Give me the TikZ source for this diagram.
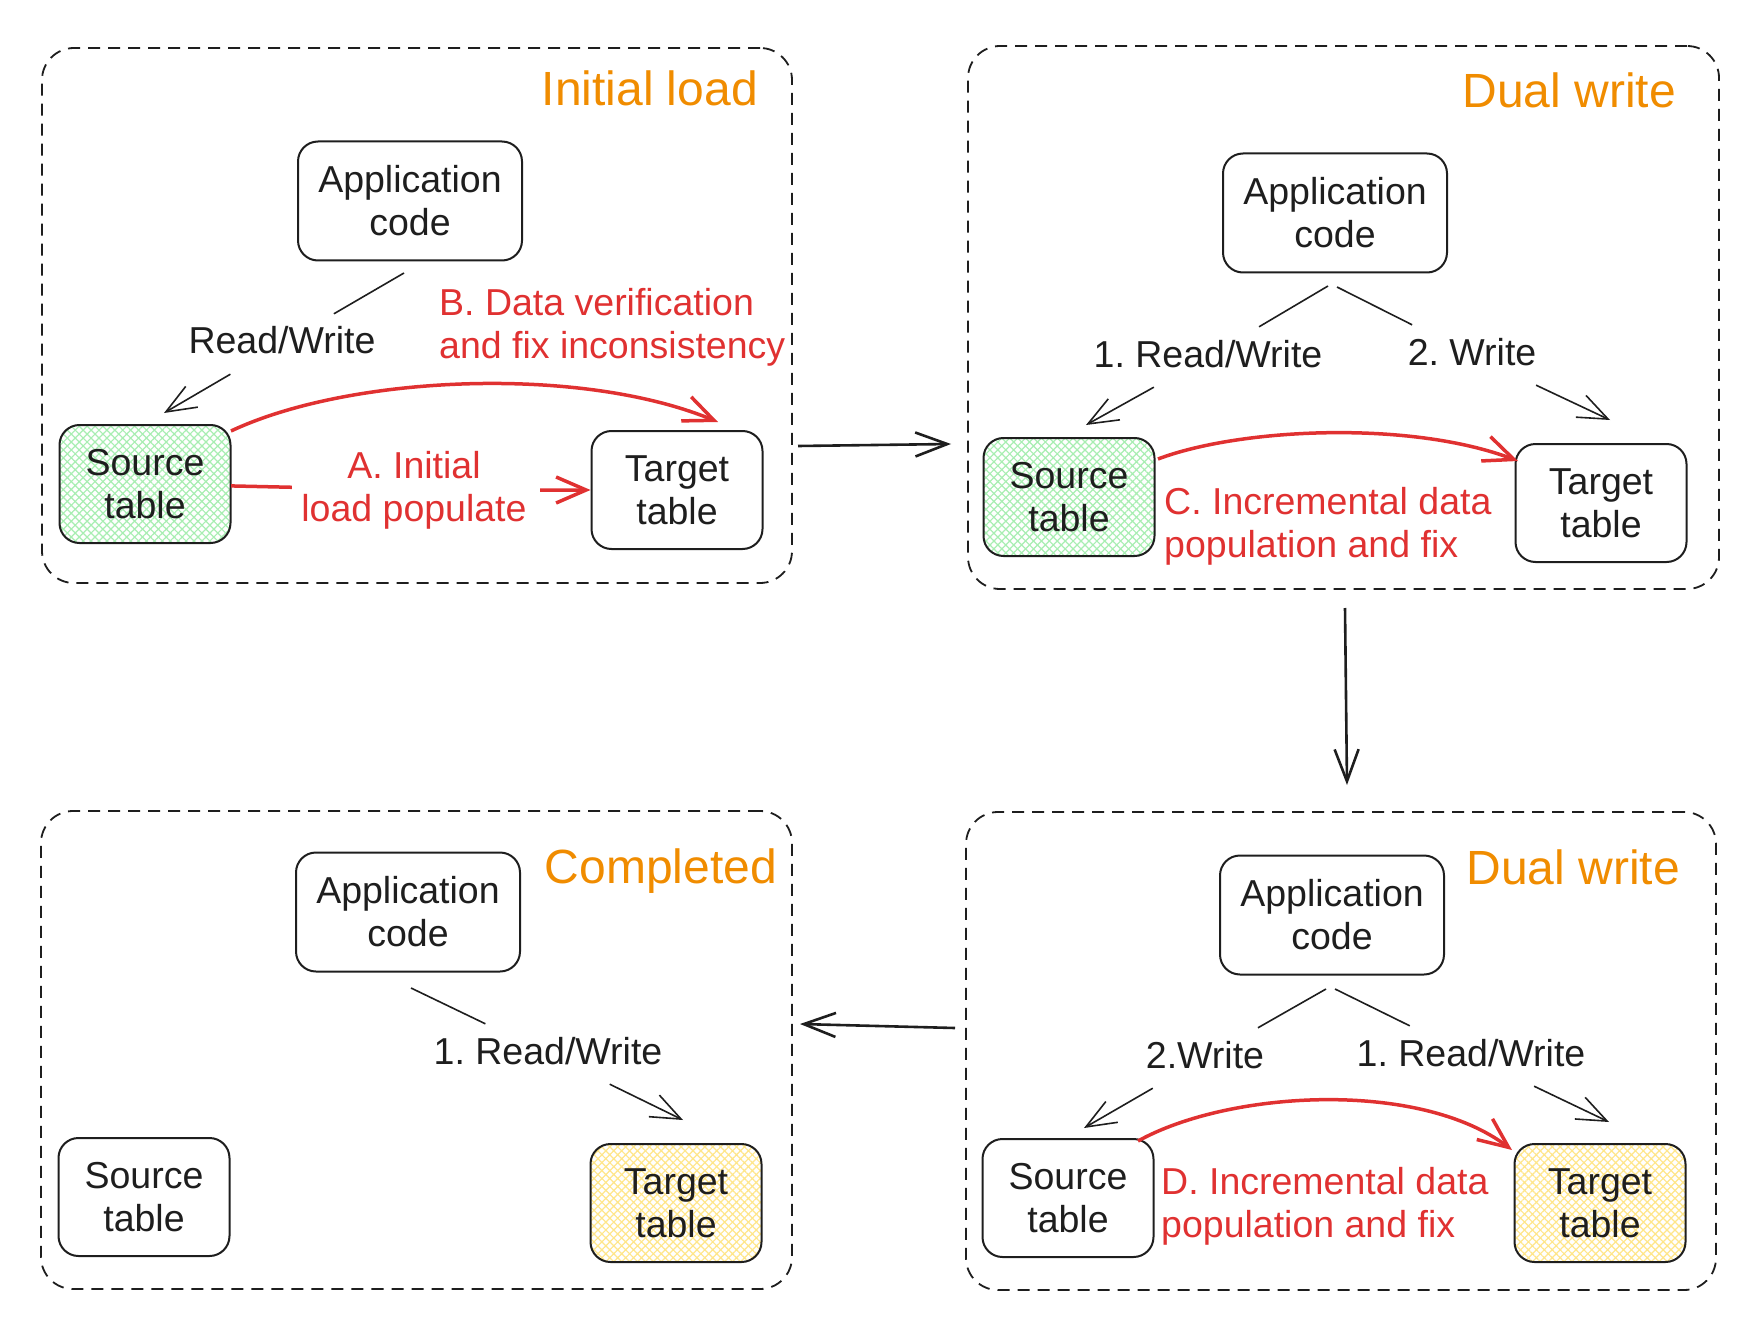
\documentclass[tikz,border=0pt]{standalone}
\usepackage{fontspec}
\setmainfont{Liberation Sans}
\usetikzlibrary{arrows.meta,patterns.meta}
\definecolor{ink}{HTML}{1E1E1E}
\definecolor{exred}{HTML}{E03131}
\definecolor{exorange}{HTML}{F08C00}
\definecolor{hgreen}{HTML}{A8EEB2}
\definecolor{hyellow}{HTML}{FFE68A}
\frenchspacing
\begin{document}
\begin{tikzpicture}[x=1pt,y=-1pt,
  every node/.style={font=\fontsize{37.5}{43}\selectfont, text=ink},
  box/.style={draw=ink, line width=2pt, rounded corners=20pt, align=center, inner sep=0pt},
  appbox/.style={box, minimum width=224pt, minimum height=119pt},
  tblbox/.style={box, minimum width=171pt, minimum height=118pt},
  greenbox/.style={tblbox, preaction={fill=white}, pattern={Hatch[angle=45,distance=5.6pt,line width=1.2pt]}, pattern color=hgreen},
  yellowbox/.style={tblbox, preaction={fill=white}, pattern={Hatch[angle=45,distance=5.6pt,line width=1.2pt]}, pattern color=hyellow},
  panel/.style={draw=ink, line width=1.8pt, dash pattern=on 12pt off 8pt, rounded corners=32pt, inner sep=0pt},
  title/.style={font=\fontsize{48}{54}\selectfont, text=exorange, anchor=base east, inner sep=0pt},
  lbl/.style={inner xsep=4pt, inner ysep=13pt, text height=27pt, text depth=7pt},
  redlbl/.style={text=exred, align=left, anchor=west, inner sep=0pt},
  thinarr/.style={draw=ink, line width=1.6pt, -{Straight Barb[length=30pt,width=24pt]}},
  redarr/.style={draw=exred, line width=3.5pt, -{Straight Barb[length=30pt,width=26pt]}},
  bigarr/.style={draw=ink, line width=2.6pt, -{Straight Barb[length=32pt,width=24pt]}}
]
\useasboundingbox (0,0) rectangle (1750,1329);

% panels
\node[panel, minimum width=750pt, minimum height=535pt] (p1) at (417,315.5) {};
\node[panel, minimum width=751pt, minimum height=543pt] (p2) at (1343.5,317.5) {};
\node[panel, minimum width=751pt, minimum height=478pt] (p3) at (416.5,1050) {};
\node[panel, minimum width=750pt, minimum height=478pt] (p4) at (1341,1051) {};

% titles
\node[title] (t1) at (758,106) {Initial load};
\node[title] (t2) at (1676,108) {Dual write};
\node[title] (t3) at (777,883) {Completed};
\node[title] (t4) at (1680,884) {Dual write};

% panel 1
\node[appbox] (app1) at (410,201) {Application\\code};
\node[greenbox] (src1) at (145,484) {Source\\table};
\node[tblbox] (tgt1) at (677,490) {Target\\table};
\node[lbl] (rw1) at (282,344) {Read/Write};
\coordinate (a1s) at (404,273);
\coordinate (a1e) at (164,413);
\draw[thinarr] (a1s) -- (rw1) -- (a1e);
\node[text=exred, align=center, inner sep=0pt, minimum width=244pt, minimum height=90pt] (lA) at (414,490) {A. Initial\\load populate};
\draw[redarr, shorten <=4pt] (src1) -- (lA) -- (tgt1);
\node[redlbl] (lB) at (439,327) {B. Data verification\\and fix inconsistency};
\coordinate (b1s) at (231,431);
\coordinate (b1e) at (718,422);
\draw[redarr] (b1s) .. controls (350,375) and (580,365) .. (b1e);

% panel 2
\node[appbox] (app2) at (1335,213) {Application\\code};
\node[greenbox] (src2) at (1069,497) {Source\\table};
\node[tblbox] (tgt2) at (1601,503) {Target\\table};
\node[lbl] (rw2) at (1208,357) {1. Read/Write};
\node[lbl] (w2) at (1472,355) {2. Write};
\coordinate (a2s) at (1328,286);
\coordinate (a2e) at (1086,425);
\coordinate (b2s) at (1337,287);
\coordinate (b2e) at (1610,420);
\draw[thinarr] (a2s) -- (rw2) -- (a2e);
\draw[thinarr] (b2s) -- (w2) -- (b2e);
\node[redlbl] (lC) at (1164,526) {C. Incremental data\\population and fix};
\coordinate (c2s) at (1158,459);
\coordinate (c2e) at (1518,461);
\draw[redarr] (c2s) .. controls (1240,428) and (1410,420) .. (c2e);

% panel 3
\node[appbox] (app3) at (408,912) {Application\\code};
\node[tblbox] (src3) at (144,1197) {Source\\table};
\node[yellowbox] (tgt3) at (676,1203) {Target\\table};
\node[lbl] (rw3) at (548,1054) {1. Read/Write};
\coordinate (a3s) at (411,988);
\coordinate (a3e) at (683,1120);
\draw[thinarr] (a3s) -- (rw3) -- (a3e);

% panel 4
\node[appbox] (app4) at (1332,915) {Application\\code};
\node[tblbox] (src4) at (1068,1198) {Source\\table};
\node[yellowbox] (tgt4) at (1600,1203) {Target\\table};
\node[lbl] (w4) at (1205,1058) {2.Write};
\node[lbl] (rw4) at (1471,1056) {1. Read/Write};
\coordinate (a4s) at (1326,989);
\coordinate (a4e) at (1084,1128);
\coordinate (b4s) at (1335,989);
\coordinate (b4e) at (1609,1122);
\draw[thinarr] (a4s) -- (w4) -- (a4e);
\draw[thinarr] (b4s) -- (rw4) -- (b4e);
\node[redlbl] (lD) at (1161,1206) {D. Incremental data\\population and fix};
\coordinate (d4s) at (1138,1141);
\coordinate (d4e) at (1512,1150);
\draw[redarr] (d4s) .. controls (1230,1090) and (1420,1080) .. (d4e);

% transitions between panels
\coordinate (m12s) at (798,446);
\coordinate (m12e) at (951,444);
\coordinate (m24s) at (1345,608);
\coordinate (m24e) at (1347,785);
\coordinate (m43s) at (955,1028);
\coordinate (m43e) at (800,1024);
\draw[bigarr] (m12s) -- (m12e);
\draw[bigarr] (m24s) -- (m24e);
\draw[bigarr] (m43s) -- (m43e);
\end{tikzpicture}
\end{document}
